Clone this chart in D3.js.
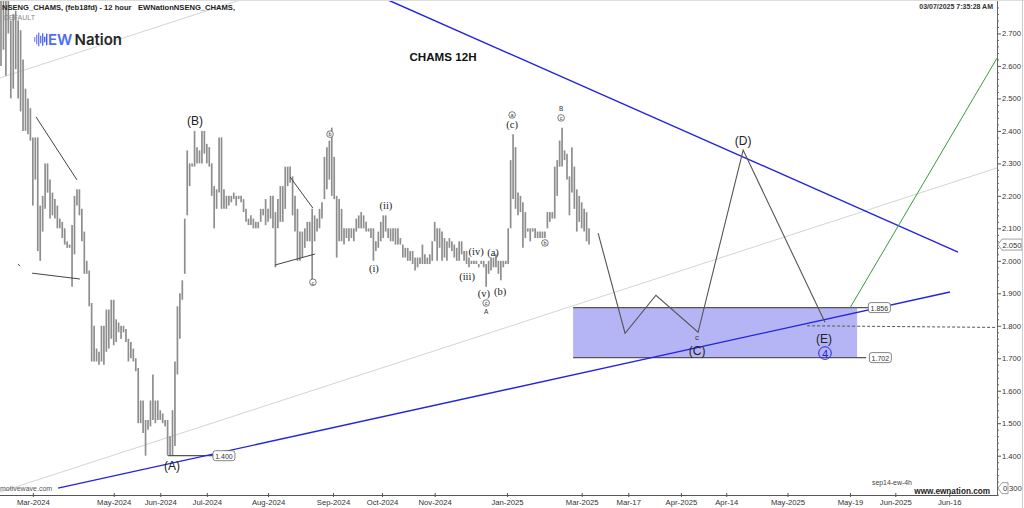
<!DOCTYPE html>
<html><head><meta charset="utf-8">
<script src="https://cdn.jsdelivr.net/npm/d3@7"></script>
<style>
body{margin:0;background:#fff;}
svg{display:block;font-family:Arial,"Liberation Sans",sans-serif;}
</style>
</head><body>
<svg id="c" width="1024" height="508"></svg>
<script>
// ---------------- DATA ----------------
// 12-hour price bars (high / low), bar index = array position
const highs = [2.85,2.85,2.85,2.80,2.74,2.76,2.77,2.74,2.71,2.62,2.53,2.50,2.47,2.38,2.38,2.38,2.17,2.20,2.30,2.30,
2.25,2.21,2.19,2.17,2.13,2.12,2.10,2.06,2.05,2.11,2.20,2.22,2.22,2.16,2.09,2.00,1.97,1.87,1.80,1.73,
1.72,1.80,1.80,1.85,1.85,1.88,1.88,1.82,1.81,1.80,1.80,1.79,1.76,1.75,1.73,1.70,1.67,1.57,1.57,1.51,
1.51,1.57,1.65,1.57,1.57,1.54,1.53,1.51,1.51,1.46,1.54,1.69,1.86,1.90,1.94,2.13,2.34,2.30,2.30,2.40,
2.35,2.34,2.40,2.40,2.36,2.35,2.30,2.23,2.22,2.38,2.38,2.22,2.20,2.20,2.20,2.21,2.20,2.20,2.20,2.19,
2.16,2.13,2.14,2.13,2.12,2.12,2.16,2.16,2.19,2.16,2.20,2.20,2.15,2.19,2.23,2.23,2.29,2.29,2.29,2.26,
2.20,2.16,2.09,2.09,2.10,2.12,2.12,2.16,2.14,2.13,2.16,2.18,2.32,2.35,2.37,2.41,2.32,2.20,2.19,2.16,
2.10,2.10,2.10,2.10,2.10,2.13,2.14,2.15,2.14,2.12,2.10,2.10,2.10,2.06,2.09,2.12,2.14,2.14,2.10,2.10,
2.10,2.10,2.10,2.07,2.05,2.04,2.04,2.03,2.03,2.01,2.01,2.01,2.05,2.02,2.01,2.02,2.06,2.12,2.10,2.10,
2.09,2.07,2.06,2.07,2.06,2.05,2.04,2.06,2.06,2.03,2.03,2.01,2.00,2.00,2.00,1.99,2.00,2.00,1.99,2.00,
2.01,2.01,2.02,2.00,2.00,2.00,2.00,2.10,2.31,2.39,2.35,2.21,2.20,2.18,2.15,2.10,2.10,2.10,2.10,2.09,
2.09,2.09,2.09,2.15,2.15,2.15,2.29,2.31,2.37,2.41,2.34,2.33,2.26,2.35,2.29,2.22,2.20,2.18,2.16,2.15,
2.10];
const lows = [2.60,2.65,2.57,2.70,2.50,2.53,2.59,2.50,2.46,2.40,2.40,2.39,2.37,2.17,2.25,2.03,2.00,2.09,2.16,2.21,
2.13,2.14,2.13,2.10,2.10,2.07,2.05,2.04,2.04,1.92,2.02,2.17,2.14,2.06,1.96,1.96,1.86,1.69,1.69,1.69,
1.68,1.69,1.68,1.72,1.73,1.76,1.74,1.75,1.78,1.76,1.78,1.75,1.69,1.70,1.69,1.66,1.50,1.50,1.47,1.40,
1.48,1.49,1.51,1.50,1.51,1.51,1.50,1.49,1.40,1.40,1.40,1.43,1.65,1.76,1.88,1.96,2.14,2.23,2.29,2.29,
2.30,2.30,2.30,2.33,2.30,2.29,2.20,2.10,2.16,2.21,2.16,2.16,2.16,2.17,2.18,2.19,2.17,2.19,2.18,2.15,
2.12,2.11,2.11,2.10,2.10,2.10,2.12,2.14,2.11,2.12,2.13,2.10,1.98,2.10,2.12,2.12,2.16,2.23,2.24,2.14,
2.09,2.00,2.00,2.01,2.04,2.06,2.06,1.94,2.06,2.09,2.10,2.13,2.19,2.22,2.25,2.20,2.19,2.01,2.06,2.06,
2.05,2.07,2.06,2.07,2.06,2.09,2.10,2.10,2.10,2.09,2.09,2.07,2.00,2.03,2.04,2.06,2.07,2.09,2.07,2.06,
2.06,2.05,2.05,2.05,2.01,2.01,2.00,2.00,1.99,1.97,1.98,1.99,1.99,1.99,1.99,1.99,2.00,2.06,2.00,2.04,
2.00,2.01,2.00,2.04,2.03,2.01,2.00,2.00,2.02,2.00,1.99,1.98,1.99,1.99,1.99,1.98,1.99,1.98,1.92,1.96,
1.97,1.98,1.98,1.96,1.94,1.98,1.99,1.99,2.10,2.19,2.16,2.14,2.15,2.04,2.07,2.09,2.06,2.09,2.07,2.07,
2.07,2.07,2.07,2.10,2.12,2.13,2.13,2.20,2.29,2.29,2.31,2.25,2.14,2.21,2.16,2.09,2.12,2.10,2.09,2.06,
2.05];

// x-axis tick labels and the bar index at which each falls
const xTickLabels = ["Mar-2024","May-2024","Jun-2024","Jul-2024","Aug-2024","Sep-2024","Oct-2024","Nov-2024","Jan-2025","Mar-2025","Mar-17","Apr-2025","Apr-14","May-2025","May-19","Jun-2025","Jun-16"];
const xTickBars   = [13,46,65,84,109,135.5,155.5,177,206.5,237,256,277.5,296,321,346.5,365,387];
// y-axis ticks
const yMajorTicks = [1.3,1.4,1.5,1.6,1.7,1.8,1.9,2.0,2.1,2.2,2.3,2.4,2.5,2.6,2.7];

// annotation lines in (bar index, price)
const upperBlue   = [[158.0,2.803],[390.6,2.027]];
const lowerBlue   = [[23.3,1.300],[387.3,1.904]];
const grayLower   = [[-0.4,1.288],[406.5,2.286]];
const grayUpper   = [[-0.4,2.563],[97.6,2.803]];
const greenPath   = [[346.5,1.855],[406.5,2.624]];
const projection  = [[243.7,2.085],[254.7,1.777],[267.3,1.894],[284.5,1.780],[302.9,2.341],[336.3,1.811]];
const trendLines  = [
  [[14.3,2.443],[31.0,2.249]],
  [[12.7,1.962],[32.2,1.944]],
  [[6.9,1.990],[7.8,1.984]],
  [[111.8,1.987],[128.2,2.021]],
  [[118.0,2.258],[127.3,2.162]]
];
const dashedLine  = [[329.0,1.800],[405.7,1.795]];
const zoneBars    = [233.5,349.4];
const zonePrices  = [1.702,1.856];
const zoneTagBars = [353.1,354.0];
const lowMark     = {from:68.2,to:86.5,price:1.400};
const lastPrice   = 2.050;
const zeroTag     = {price:1.300,label:"0",rest:"300"};

// wave labels: [text, bar index, price, style]
const waveLabels = [
  ["(A)",69.8,1.368,"big"],["(B)",79.2,2.430,"big"],["(C)",284.1,1.722,"big"],
  ["(D)",302.9,2.369,"big"],["(E)",335.9,1.759,"big"],["c",284.1,1.765,"small"],
  ["(ii)",157.1,2.169,"serif"],["(i)",152.2,1.975,"serif"],["(iv)",193.9,2.030,"serif"],
  ["(a)",200.8,2.027,"serif"],["(iii)",190.2,1.953,"serif"],["(v)",197.1,1.898,"serif"],
  ["(b)",203.7,1.904,"serif"],["(c)",208.6,2.421,"serif"],
  ["A",198.0,1.845,"tiny"],["B",228.6,2.470,"tiny"]
];
const circledLabels = [
  ["a",208.6,2.449],["b",134.3,2.390],["c",127.3,1.934],["c",198.0,1.870],
  ["c",228.6,2.440],["b",222.0,2.055]
];
const blueCircle = ["4",336.3,1.716];

// ---------------- DRAW ----------------
const svg = d3.select("#c");
const x = d3.scaleLinear().domain([0,406.5]).range([1,997]);
const y = d3.scaleLinear().domain([1.279,2.803]).range([495,0]);
const line = d3.line().x(d=>x(d[0])).y(d=>y(d[1]));

svg.append("rect").attr("width",1024).attr("height",508).attr("fill","#fff");
svg.append("defs").append("clipPath").attr("id","plot")
  .append("rect").attr("x",0).attr("y",0).attr("width",997).attr("height",495);
const g = svg.append("g").attr("clip-path","url(#plot)");

// light gray channel lines
[grayLower,grayUpper].forEach(p=>g.append("path").attr("d",line(p))
  .attr("fill","none").attr("stroke","#d4d4d4").attr("stroke-width",1));

// target zone
g.append("rect")
  .attr("x",x(zoneBars[0])).attr("width",x(zoneBars[1])-x(zoneBars[0]))
  .attr("y",y(zonePrices[1])).attr("height",y(zonePrices[0])-y(zonePrices[1]))
  .attr("fill","#b5b5f5");
zonePrices.forEach((p,k)=>{
  g.append("line").attr("x1",x(zoneBars[0])).attr("x2",x(zoneTagBars[k]))
   .attr("y1",y(p)).attr("y2",y(p)).attr("stroke","#555").attr("stroke-width",1.2);
});

// price bars
g.append("g").selectAll("line").data(highs).join("line")
  .attr("x1",(d,i)=>x(i)).attr("x2",(d,i)=>x(i))
  .attr("y1",d=>y(d)).attr("y2",(d,i)=>Math.max(y(lows[i]),y(d)+1.5))
  .attr("stroke","#8e8e8e").attr("stroke-width",1.7);

// trend lines
trendLines.forEach(p=>g.append("path").attr("d",line(p))
  .attr("fill","none").attr("stroke","#444").attr("stroke-width",1));

// 1.400 marker line
g.append("line").attr("x1",x(lowMark.from)).attr("x2",x(lowMark.to))
  .attr("y1",y(lowMark.price)).attr("y2",y(lowMark.price)).attr("stroke","#555").attr("stroke-width",1.2);

// blue channel lines
[upperBlue,lowerBlue].forEach(p=>g.append("path").attr("d",line(p))
  .attr("fill","none").attr("stroke","#2323e0").attr("stroke-width",1.4));

// projection
g.append("path").attr("d",line(projection)).attr("fill","none")
  .attr("stroke","#555").attr("stroke-width",1.1);
g.append("path").attr("d",line(greenPath)).attr("fill","none")
  .attr("stroke","#3c9a3c").attr("stroke-width",1);
g.append("path").attr("d",line(dashedLine)).attr("fill","none")
  .attr("stroke","#555").attr("stroke-width",1).attr("stroke-dasharray","3,2");

// wave labels
waveLabels.forEach(([t,b,p,s])=>{
  const txt = svg.append("text").attr("x",x(b)).attr("y",y(p))
    .attr("text-anchor","middle").attr("dominant-baseline","central").text(t);
  if(s==="big") txt.attr("font-size",12).attr("fill","#222");
  else if(s==="small") txt.attr("font-size",8).attr("fill","#333");
  else if(s==="tiny") txt.attr("font-size",6.5).attr("fill","#333");
  else txt.attr("font-size",10.5).attr("fill","#222").attr("font-family","'Liberation Serif','DejaVu Serif',serif");
});
circledLabels.forEach(([t,b,p])=>{
  svg.append("circle").attr("cx",x(b)).attr("cy",y(p)).attr("r",3.3)
    .attr("fill","#fff").attr("stroke","#444").attr("stroke-width",0.7);
  svg.append("text").attr("x",x(b)).attr("y",y(p)+0.3).attr("text-anchor","middle")
    .attr("dominant-baseline","central").attr("font-size",5.5).attr("fill","#333").text(t);
});
svg.append("circle").attr("cx",x(blueCircle[1])).attr("cy",y(blueCircle[2])).attr("r",6.3)
  .attr("fill","none").attr("stroke","#2323e0").attr("stroke-width",1);
svg.append("text").attr("x",x(blueCircle[1])).attr("y",y(blueCircle[2])+0.5).attr("text-anchor","middle")
  .attr("dominant-baseline","central").attr("font-size",11).attr("fill","#2323e0").text(blueCircle[0]);

// price tags on chart
function tag(xl,p,label){
  const w=22,h=10,yy=y(p);
  svg.append("rect").attr("x",xl).attr("y",yy-h/2).attr("width",w).attr("height",h)
    .attr("rx",2.5).attr("fill","#fff").attr("stroke","#666").attr("stroke-width",0.8);
  svg.append("text").attr("x",xl+w/2).attr("y",yy+0.5).attr("text-anchor","middle")
    .attr("dominant-baseline","central").attr("font-size",7).attr("fill","#333").text(label);
}
const fmt = d3.format(".3f");
tag(x(zoneTagBars[1]),zonePrices[1],fmt(zonePrices[1]));
tag(x(zoneTagBars[1])+1,zonePrices[0],fmt(zonePrices[0]));
tag(x(lowMark.to),lowMark.price,fmt(lowMark.price));

// y axis
const yAxisG = svg.append("g").attr("transform","translate(997,0)");
const minorTicks = d3.range(1.28,2.80,0.02).filter(v=>Math.abs(Math.round(v*10)-v*10)>0.01);
yAxisG.call(d3.axisRight(y).tickValues(minorTicks).tickSize(2).tickFormat("").tickSizeOuter(0));
const yMaj = svg.append("g").attr("transform","translate(997,0)")
  .call(d3.axisRight(y).tickValues(yMajorTicks).tickSize(4).tickPadding(1)
    .tickFormat(d=>Math.abs(d-zeroTag.price)<1e-9?"":fmt(d)).tickSizeOuter(0));
svg.selectAll("g .domain").attr("stroke","#666");
yAxisG.selectAll("line").attr("stroke","#666");
yMaj.selectAll("line").attr("stroke","#555");
yMaj.selectAll("text").attr("font-size",7.6).attr("fill","#333").attr("font-family","Arial,'Liberation Sans',sans-serif");

// axis tags (last price, zero)
function axisTag(p,label,w){
  const yy=y(p),h=11,x0=998;
  svg.append("path").attr("d",`M${x0},${yy} L${x0+4},${yy-h/2} L${x0+w},${yy-h/2} L${x0+w},${yy+h/2} L${x0+4},${yy+h/2} Z`)
    .attr("fill","#fff").attr("stroke","#888").attr("stroke-width",0.8);
  svg.append("text").attr("x",x0+4+(w-4)/2).attr("y",yy+0.5).attr("text-anchor","middle")
    .attr("dominant-baseline","central").attr("font-size",7.6).attr("fill","#333").text(label);
}
axisTag(lastPrice,fmt(lastPrice),24);
axisTag(zeroTag.price,zeroTag.label,10);
svg.append("text").attr("x",1009).attr("y",y(zeroTag.price)+0.5).attr("dominant-baseline","central")
  .attr("font-size",7.6).attr("fill","#333").text(zeroTag.rest);

// x axis
const xAxisG = svg.append("g").attr("transform","translate(0,495)")
  .call(d3.axisBottom(x).tickValues(xTickBars).tickFormat((d,i)=>xTickLabels[i])
    .tickSizeInner(2).tickSizeOuter(0).tickPadding(3));
xAxisG.select(".domain").attr("d","M0,0.5H997").attr("stroke","#555");
xAxisG.selectAll(".tick line").attr("y1",-2).attr("y2",2).attr("stroke","#555");
xAxisG.selectAll("text").attr("font-size",7.7).attr("fill","#333").attr("font-family","Arial,'Liberation Sans',sans-serif");

// frame
svg.append("line").attr("x1",0).attr("x2",1024).attr("y1",0.5).attr("y2",0.5).attr("stroke","#ddd");
svg.append("line").attr("x1",1022.5).attr("x2",1022.5).attr("y1",0).attr("y2",508).attr("stroke","#ccc");

// header texts
svg.append("text").attr("x",2).attr("y",9.5).attr("font-size",7.6).attr("font-weight","bold").attr("fill","#222")
  .text("NSENG_CHAMS, (feb18fd) - 12 hour");
svg.append("text").attr("x",138).attr("y",9.5).attr("font-size",7.6).attr("font-weight","bold").attr("fill","#222")
  .text("EWNationNSENG_CHAMS,");
svg.append("text").attr("x",4).attr("y",19.5).attr("font-size",7).attr("fill","#888").text("DEFAULT");
svg.append("text").attr("x",993).attr("y",9).attr("text-anchor","end").attr("font-size",7).attr("font-weight","bold")
  .attr("fill","#333").text("03/07/2025 7:35:28 AM");
svg.append("text").attr("x",443).attr("y",60.5).attr("text-anchor","middle").attr("font-size",11.6)
  .attr("font-weight","bold").attr("fill","#111").text("CHAMS 12H");

// logo
const logoBars = [[34,5],[36,10],[38,14],[40,8],[42,13],[44,6],[46,12]];
const logoCol = d3.scaleLinear().domain([34,46]).range(["#8a96f2","#3f5be0"]);
logoBars.forEach(([bx,bh])=>svg.append("rect").attr("x",bx).attr("y",39.5-bh/2).attr("width",1.4).attr("height",bh)
  .attr("rx",0.7).attr("fill",logoCol(bx)));
svg.append("text").attr("x",48).attr("y",44.5).attr("font-size",15).attr("font-weight",600)
  .attr("font-family","Inter,'Open Sans',sans-serif").attr("fill","#4e6ef2").text("EW");
svg.append("text").attr("x",74.5).attr("y",44.5).attr("font-size",15).attr("font-weight",600)
  .attr("font-family","Inter,'Open Sans',sans-serif").attr("fill","#262626").text("Nation");

// footer texts
svg.append("text").attr("x",0).attr("y",491).attr("font-size",7).attr("fill","#555").text("motivewave.com");
svg.append("text").attr("x",872).attr("y",485).attr("font-size",6.9).attr("fill","#444").text("sep14-ew-4h");
svg.append("text").attr("x",990).attr("y",493.5).attr("text-anchor","end").attr("font-size",8.2)
  .attr("font-weight","bold").attr("fill","#222").text("www.ewnation.com");
</script>
</body></html>
